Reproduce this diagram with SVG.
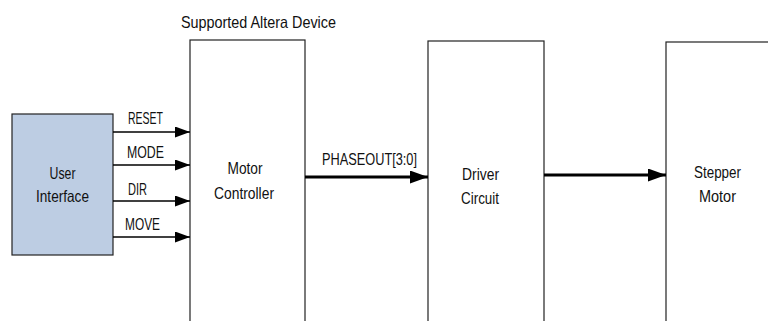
<svg xmlns="http://www.w3.org/2000/svg" width="768" height="321" viewBox="0 0 768 321">
<style>
.box{fill:#ffffff;stroke:#222;stroke-width:1.2}
.ui{fill:#bdcde3;stroke:#222;stroke-width:1.2}
text{font-family:"Liberation Sans",Arial,sans-serif;font-size:16.5px;fill:#111}
.c{text-anchor:middle}
.thin{stroke:#000;stroke-width:1.3;fill:none}
.thick{stroke:#000;stroke-width:3.2;fill:none}
</style>
<defs>
<marker id="ah" markerUnits="userSpaceOnUse" markerWidth="16" markerHeight="12" refX="15" refY="5.5" orient="auto">
<path d="M0,0 L15,5.5 L0,11 Z" fill="#000"/>
</marker>
<marker id="ahb" markerUnits="userSpaceOnUse" markerWidth="19" markerHeight="14" refX="18" refY="6.5" orient="auto">
<path d="M0,0 L18,6.5 L0,13 Z" fill="#000"/>
</marker>
</defs>
<rect width="768" height="321" fill="#ffffff"/>
<text x="181" y="28" textLength="155" lengthAdjust="spacingAndGlyphs">Supported Altera Device</text>

<g id="user-interface">
<rect class="ui" x="12" y="114" width="101" height="141"/>
<text class="c" x="62.5" y="179" textLength="26" lengthAdjust="spacingAndGlyphs">User</text>
<text class="c" x="62.5" y="202" textLength="53" lengthAdjust="spacingAndGlyphs">Interface</text>
</g>

<g id="motor-controller">
<rect class="box" x="190" y="40" width="115" height="290"/>
<text class="c" x="245" y="174" textLength="35" lengthAdjust="spacingAndGlyphs">Motor</text>
<text class="c" x="244" y="198.5" textLength="60" lengthAdjust="spacingAndGlyphs">Controller</text>
</g>

<g id="driver-circuit">
<rect class="box" x="428" y="41" width="116" height="290"/>
<text class="c" x="480.5" y="180" textLength="37" lengthAdjust="spacingAndGlyphs">Driver</text>
<text class="c" x="480" y="204" textLength="38" lengthAdjust="spacingAndGlyphs">Circuit</text>
</g>

<g id="stepper-motor">
<rect class="box" x="666" y="42" width="110" height="290"/>
<text class="c" x="717.5" y="177.5" textLength="47" lengthAdjust="spacingAndGlyphs">Stepper</text>
<text class="c" x="717.5" y="201.5" textLength="37" lengthAdjust="spacingAndGlyphs">Motor</text>
</g>

<g id="connectors">
<line class="thin" x1="113" y1="132" x2="190" y2="132" marker-end="url(#ah)"/>
<line class="thin" x1="113" y1="165" x2="190" y2="165" marker-end="url(#ah)"/>
<line class="thin" x1="113" y1="201" x2="190" y2="201" marker-end="url(#ah)"/>
<line class="thin" x1="113" y1="237" x2="190" y2="237" marker-end="url(#ah)"/>
<line class="thick" x1="305" y1="177" x2="428" y2="177" marker-end="url(#ahb)"/>
<line class="thick" x1="544" y1="175" x2="666" y2="175" marker-end="url(#ahb)"/>
<text x="128" y="124" textLength="35" lengthAdjust="spacingAndGlyphs">RESET</text>
<text x="127" y="158" textLength="37" lengthAdjust="spacingAndGlyphs">MODE</text>
<text x="128" y="195" textLength="19" lengthAdjust="spacingAndGlyphs">DIR</text>
<text x="125" y="230" textLength="35" lengthAdjust="spacingAndGlyphs">MOVE</text>
<text x="322" y="165" textLength="95" lengthAdjust="spacingAndGlyphs">PHASEOUT[3:0]</text>
</g>
</svg>
